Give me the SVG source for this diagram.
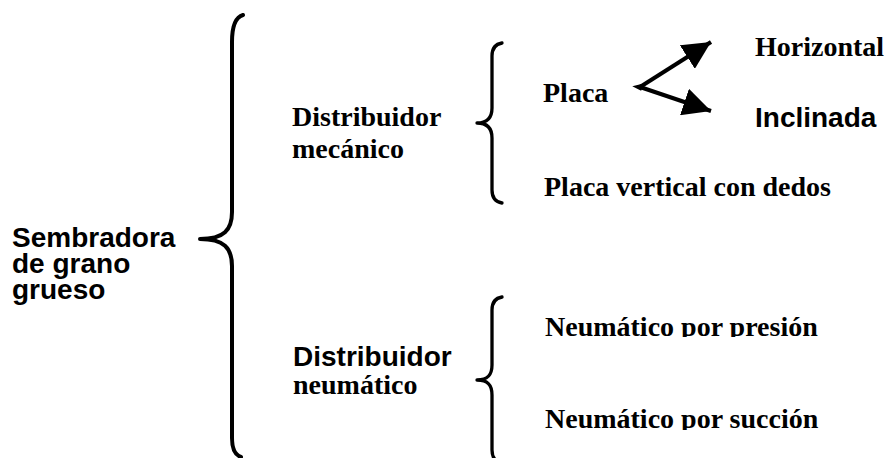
<svg xmlns="http://www.w3.org/2000/svg" width="889" height="458" viewBox="0 0 889 458">
<style>
.t{font-family:"Liberation Serif","Times New Roman",serif;font-weight:bold;font-size:28px;fill:#000}
.a{font-family:"Liberation Sans",Arial,sans-serif;font-weight:bold;font-size:28px;fill:#000}
.br{fill:none;stroke:#000;stroke-linecap:round;stroke-linejoin:round}
.ar{stroke:#000;stroke-width:4;fill:none}
</style>
<defs>
<marker id="ah" markerUnits="userSpaceOnUse" markerWidth="28" markerHeight="28" refX="28" refY="14" orient="auto">
<path d="M0,0 L28,14 L0,28 Z" fill="#000"/>
</marker>
<clipPath id="c1"><rect x="530" y="300" width="320" height="37"/></clipPath>
<clipPath id="c2"><rect x="530" y="395" width="320" height="35"/></clipPath>
</defs>
<g id="root">
<text class="a" x="12" y="247">Sembradora<tspan x="12" dy="26">de grano</tspan><tspan x="12" dy="26">grueso</tspan></text>
</g>
<g id="brace-main">
<path class="br" stroke-width="4" d="M243,15 C236,17 232,25 232,42 L232,212 C232,230 224,239 200,239 C224,239 232,248 232,266 L232,438 C232,450 235,455 241,457"/>
</g>
<g id="mecanico">
<text class="t" x="292" y="126">Distribuidor<tspan x="292" dy="32">mecánico</tspan></text>
</g>
<g id="neumatico">
<text class="a" x="293" y="366">Distribuidor</text>
<text class="t" x="293" y="394">neumático</text>
</g>
<g id="brace-mec">
<path class="br" stroke-width="3.3" d="M502,43 C496,44 492,48 492,56 L492,108 C492,117 488,123 477,123 C488,123 492,129 492,138 L492,190 C492,198 496,202 502,203"/>
</g>
<g id="brace-neu">
<path class="br" stroke-width="3.3" d="M502,297 C496,298 492,302 492,310 L492,365 C492,375 488,380 477,380 C488,380 492,385 492,395 L492,450 C492,458 496,462 502,463"/>
</g>
<g id="placa"><text class="t" x="543" y="102">Placa</text></g>
<g id="horizontal"><text class="t" x="755" y="56">Horizontal</text></g>
<g id="inclinada"><text class="a" x="755" y="127">Inclinada</text></g>
<g id="placa-vertical"><text class="t" x="544" y="196">Placa vertical con dedos</text></g>
<g id="presion"><text class="t" x="545" y="336" clip-path="url(#c1)">Neumático por presión</text></g>
<g id="succion"><text class="t" x="545" y="428" clip-path="url(#c2)">Neumático por succión</text></g>
<g id="connectors">
<line class="ar" x1="640" y1="87" x2="711" y2="42" marker-end="url(#ah)"/>
<line class="ar" x1="640" y1="87" x2="711" y2="111" marker-end="url(#ah)"/>
<path d="M642,86 L638,87 L642,89" fill="none" stroke="#000" stroke-width="4" stroke-linejoin="miter"/>
</g>
</svg>
